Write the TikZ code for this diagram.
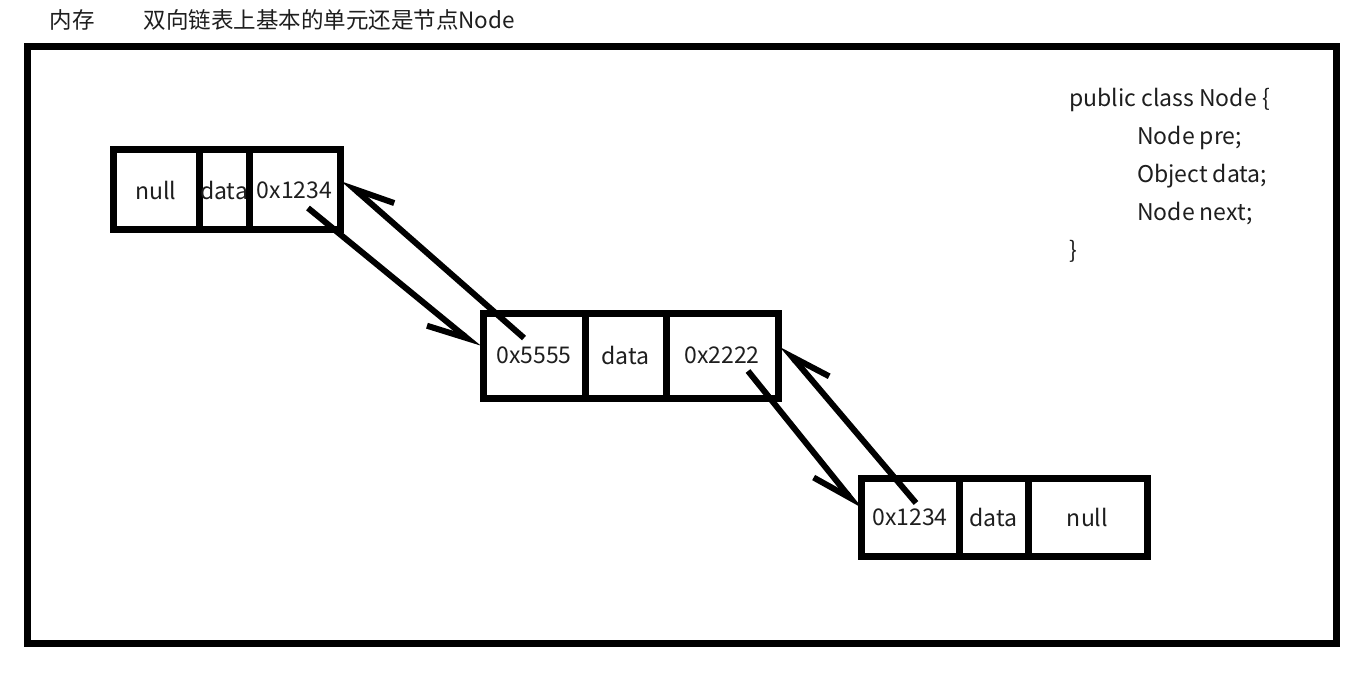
\documentclass[tikz,border=0pt]{standalone}
\usepackage{fontspec}
\usepackage{tikz}
\usetikzlibrary{arrows.meta, positioning}
\setmainfont{Noto Sans CJK SC}
\definecolor{inkblack}{RGB}{0, 0, 0}
\definecolor{textgray}{RGB}{30, 30, 30}

\begin{document}
\begin{tikzpicture}[x=1pt, y=-1pt,
    cell/.style={draw=inkblack, line width=7pt, rectangle, inner sep=0pt, outer sep=0pt,
                 font=\fontsize{23}{27}\selectfont, text=textgray},
    link/.style={line width=6pt, inkblack, -{Straight Barb[right, angle=44:42pt]}}]
    \useasboundingbox (0,0) rectangle (1370,676);
    % title and memory frame
    \node[anchor=base west, font=\fontsize{22.5}{27}\selectfont, text=textgray] (mem) at (46,29) {内存};
    \node[anchor=base west, font=\fontsize{22.5}{27}\selectfont, text=textgray] (title) at (140,29) {双向链表上基本的单元还是节点Node};
    \draw[line width=7pt, inkblack] (27,47) rectangle (1336,643);
    % first node
    \node[cell, minimum width=86pt, minimum height=80pt, anchor=west] (n1pre) at (113,190) {null};
    \node[cell, minimum width=50pt, minimum height=80pt, anchor=west] (n1data) at (n1pre.east) {data};
    \node[cell, minimum width=91pt, minimum height=80pt, anchor=west] (n1next) at (n1data.east) {0x1234};
    % second node
    \node[cell, minimum width=102pt, minimum height=85pt, anchor=west] (n2pre) at (483,355.5) {0x5555};
    \node[cell, minimum width=81pt, minimum height=85pt, anchor=west] (n2data) at (n2pre.east) {data};
    \node[cell, minimum width=112pt, minimum height=85pt, anchor=west] (n2next) at (n2data.east) {0x2222};
    % third node
    \node[cell, minimum width=98pt, minimum height=78pt, anchor=west] (n3pre) at (861,517) {0x1234};
    \node[cell, minimum width=69pt, minimum height=78pt, anchor=west] (n3data) at (n3pre.east) {data};
    \node[cell, minimum width=119pt, minimum height=78pt, anchor=west] (n3next) at (n3data.east) {null};
    % ends of the links
    \coordinate (a1s) at (308,208);
    \coordinate (a1e) at (479,348);
    \coordinate (a2s) at (524,338);
    \coordinate (a2e) at (343,179);
    \coordinate (a3s) at (748,371);
    \coordinate (a3e) at (860,510);
    \coordinate (a4s) at (916,503);
    \coordinate (a4e) at (782,345);
    \draw[link] (a1s) -- (a1e);
    \draw[link] (a2s) -- (a2e);
    \draw[link] (a3s) -- (a3e);
    \draw[link] (a4s) -- (a4e);
    % class source
    \node[anchor=north west, align=left, inner sep=0pt, font=\fontsize{23}{38}\selectfont, text=textgray] (code) at (1069,88)
        {public class Node \{\\ \hspace*{68pt}Node pre;\\ \hspace*{68pt}Object data;\\ \hspace*{68pt}Node next;\\ \}};
\end{tikzpicture}
\end{document}
